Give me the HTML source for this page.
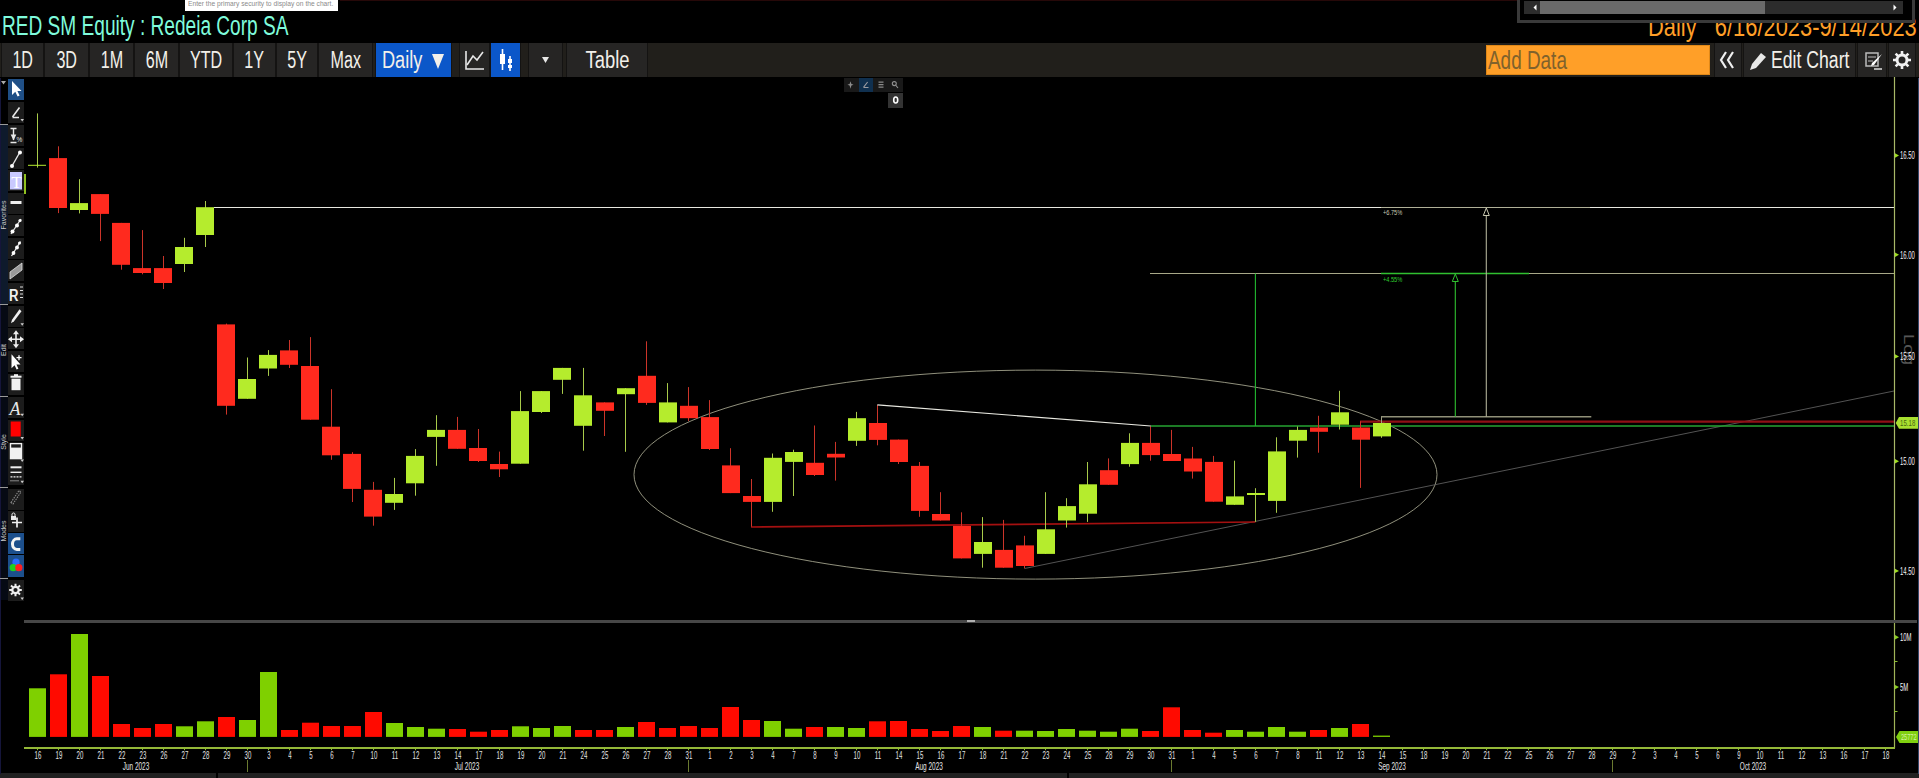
<!DOCTYPE html>
<html><head><meta charset="utf-8">
<style>
*{margin:0;padding:0;box-sizing:border-box}
html,body{width:1919px;height:778px;background:#000;overflow:hidden;font-family:"Liberation Sans",sans-serif}
#root{position:relative;width:1919px;height:778px;background:#000;overflow:hidden}
.abs{position:absolute}
.cond{display:inline-block;transform-origin:0 50%;white-space:nowrap}
#title{left:2px;top:9px;height:34px;line-height:34px;font-size:27px;color:#7ffbdc;transform:scaleX(.707);transform-origin:0 50%;white-space:nowrap}
#tip{left:185px;top:0;width:153px;height:11px;background:#fff;color:#8a8a8a;font-size:7px;line-height:7px;overflow:hidden;white-space:nowrap}
#tip span{display:inline-block;transform:scaleX(.955);transform-origin:0 0;margin-left:3px;margin-top:-1px}
#tbar{left:0;top:43px;width:1919px;height:34px;background:#211f1b}
.btn{position:absolute;top:43px;height:34px;background:#262524;border-left:1px solid #141312;border-right:1px solid #141312;color:#f2f0ea;font-size:23px;line-height:34px;text-align:center;overflow:hidden;white-space:nowrap}
.btn span{display:inline-block;transform:scaleX(.70);transform-origin:50% 50%}
.blue{background:#0b57c9}
#dater{right:2px;top:9.5px;height:34px;line-height:34px;font-size:27px;color:#ff9f28;transform:scaleX(.81);transform-origin:100% 50%;white-space:pre}
#sbox{left:1517px;top:0;width:398px;height:23px;background:#000;border:3px solid #3a3a3a;border-top:none}
#strack{left:1524px;top:1px;width:379px;height:13px;background:#2c2c2c}
#sthumb{left:1540px;top:1px;width:225px;height:13px;background:#6a6a6a}
#adddata{left:1486px;top:45px;width:224px;height:30px;background:#ff9f28;border:1px solid #e08818;overflow:hidden}
#adddata span{position:absolute;left:1px;top:-1px;font-size:25px;line-height:30px;color:#80622c;transform:scaleX(.757);transform-origin:0 50%;white-space:nowrap}
.dl{position:absolute;top:749.8px;width:20px;text-align:center;font-size:10.5px;line-height:11px;color:#e4e4e4;transform:scaleX(.58)}
.ml{position:absolute;top:760.5px;width:50px;text-align:center;font-size:10.8px;line-height:11px;color:#e4e4e4;transform:scaleX(.60);white-space:nowrap}
.yl{position:absolute;left:1899.8px;width:30px;font-size:10.5px;line-height:10px;color:#f4f4f4;transform:scaleX(.565);transform-origin:0 50%;white-space:nowrap}
.ic{position:absolute;left:8px;width:16px;height:21px;background:#1c1c1c}
.sep{position:absolute;left:0;width:8px;height:1px;background:#9a9a9a}
.vl{position:absolute;left:-14px;width:36px;height:8px;font-size:7px;line-height:8px;color:#c8c8c8;text-align:center;transform:rotate(-90deg);white-space:nowrap}
</style></head><body><div id="root">
<svg class="abs" style="left:0;top:0" width="1919" height="778" viewBox="0 0 1919 778">
<line x1="214" y1="207.5" x2="1894" y2="207.5" stroke="#e8e8e0" stroke-width="1.2"/>
<line x1="1150" y1="273.5" x2="1894" y2="273.5" stroke="#a8a888" stroke-width="1.1"/>
<line x1="1381" y1="273.5" x2="1529" y2="273.5" stroke="#30c030" stroke-width="1.6"/>
<line x1="1381" y1="207.5" x2="1590" y2="207.5" stroke="#b0b098" stroke-width="1.2"/>
<ellipse cx="1035.5" cy="474.6" rx="401.5" ry="104.5" fill="none" stroke="#aaaa92" stroke-width="0.85"/>
<line x1="1024.6" y1="568.5" x2="1894" y2="391" stroke="#626262" stroke-width="0.85"/>
<line x1="751.5" y1="500" x2="751.5" y2="527" stroke="#d02a20" stroke-width="1"/>
<line x1="751" y1="527" x2="1255.5" y2="522" stroke="#a41010" stroke-width="1.6"/>
<line x1="1150.9" y1="426" x2="1894" y2="426" stroke="#26a432" stroke-width="1.7"/>
<line x1="1360.5" y1="421.4" x2="1360.5" y2="428" stroke="#b05040" stroke-width="1"/>
<line x1="1360" y1="421.7" x2="1894" y2="421.7" stroke="#901016" stroke-width="2.2"/>
<line x1="37.5" y1="113.4" x2="37.5" y2="167.6" stroke="#a8ca4a" stroke-width="1"/>
<rect x="28" y="164.8" width="18" height="1.0" fill="#b5ec2d"/>
<line x1="58.5" y1="146.3" x2="58.5" y2="213.1" stroke="#cc3429" stroke-width="1"/>
<rect x="49" y="158.1" width="18" height="49.9" fill="#ff2a1e"/>
<line x1="79.5" y1="179.2" x2="79.5" y2="213.4" stroke="#a8ca4a" stroke-width="1"/>
<rect x="70" y="203.1" width="18" height="6.9" fill="#b5ec2d"/>
<line x1="100.5" y1="194.1" x2="100.5" y2="241.1" stroke="#cc3429" stroke-width="1"/>
<rect x="91" y="194.1" width="18" height="19.8" fill="#ff2a1e"/>
<line x1="121.5" y1="222.9" x2="121.5" y2="269.7" stroke="#cc3429" stroke-width="1"/>
<rect x="112" y="222.9" width="18" height="41.9" fill="#ff2a1e"/>
<line x1="142.5" y1="230.1" x2="142.5" y2="274.3" stroke="#cc3429" stroke-width="1"/>
<rect x="133" y="268.1" width="18" height="4.9" fill="#ff2a1e"/>
<line x1="163.5" y1="256.0" x2="163.5" y2="289.0" stroke="#cc3429" stroke-width="1"/>
<rect x="154" y="268.1" width="18" height="14.9" fill="#ff2a1e"/>
<line x1="184.5" y1="237.8" x2="184.5" y2="272.0" stroke="#a8ca4a" stroke-width="1"/>
<rect x="175" y="247.0" width="18" height="17.0" fill="#b5ec2d"/>
<line x1="205.5" y1="201.0" x2="205.5" y2="247.0" stroke="#a8ca4a" stroke-width="1"/>
<rect x="196" y="207.2" width="18" height="27.8" fill="#b5ec2d"/>
<line x1="226.5" y1="323.6" x2="226.5" y2="414.6" stroke="#cc3429" stroke-width="1"/>
<rect x="217" y="324.4" width="18" height="81.4" fill="#ff2a1e"/>
<line x1="247.5" y1="357.5" x2="247.5" y2="398.8" stroke="#a8ca4a" stroke-width="1"/>
<rect x="238" y="379.0" width="18" height="19.8" fill="#b5ec2d"/>
<line x1="268.5" y1="350.1" x2="268.5" y2="375.9" stroke="#a8ca4a" stroke-width="1"/>
<rect x="259" y="354.9" width="18" height="13.6" fill="#b5ec2d"/>
<line x1="289.5" y1="340.0" x2="289.5" y2="368.0" stroke="#cc3429" stroke-width="1"/>
<rect x="280" y="350.4" width="18" height="14.4" fill="#ff2a1e"/>
<line x1="310.5" y1="337.1" x2="310.5" y2="419.7" stroke="#cc3429" stroke-width="1"/>
<rect x="301" y="366.0" width="18" height="53.7" fill="#ff2a1e"/>
<line x1="331.5" y1="389.2" x2="331.5" y2="459.8" stroke="#cc3429" stroke-width="1"/>
<rect x="322" y="426.7" width="18" height="28.6" fill="#ff2a1e"/>
<line x1="352.5" y1="452.2" x2="352.5" y2="502.0" stroke="#cc3429" stroke-width="1"/>
<rect x="343" y="453.9" width="18" height="35.0" fill="#ff2a1e"/>
<line x1="373.5" y1="481.9" x2="373.5" y2="525.7" stroke="#cc3429" stroke-width="1"/>
<rect x="364" y="489.8" width="18" height="26.8" fill="#ff2a1e"/>
<line x1="394.5" y1="477.9" x2="394.5" y2="509.9" stroke="#a8ca4a" stroke-width="1"/>
<rect x="385" y="494.0" width="18" height="8.8" fill="#b5ec2d"/>
<line x1="415.5" y1="449.1" x2="415.5" y2="495.7" stroke="#a8ca4a" stroke-width="1"/>
<rect x="406" y="455.9" width="18" height="27.4" fill="#b5ec2d"/>
<line x1="436.5" y1="415.2" x2="436.5" y2="465.8" stroke="#a8ca4a" stroke-width="1"/>
<rect x="427" y="429.9" width="18" height="7.0" fill="#b5ec2d"/>
<line x1="457.5" y1="416.9" x2="457.5" y2="448.8" stroke="#cc3429" stroke-width="1"/>
<rect x="448" y="429.9" width="18" height="18.9" fill="#ff2a1e"/>
<line x1="478.5" y1="429.0" x2="478.5" y2="462.0" stroke="#cc3429" stroke-width="1"/>
<rect x="469" y="448.0" width="18" height="13.0" fill="#ff2a1e"/>
<line x1="499.5" y1="451.6" x2="499.5" y2="477.0" stroke="#cc3429" stroke-width="1"/>
<rect x="490" y="464.0" width="18" height="5.3" fill="#ff2a1e"/>
<line x1="520.5" y1="391.1" x2="520.5" y2="463.7" stroke="#a8ca4a" stroke-width="1"/>
<rect x="511" y="411.1" width="18" height="52.6" fill="#b5ec2d"/>
<line x1="541.5" y1="391.1" x2="541.5" y2="413.0" stroke="#a8ca4a" stroke-width="1"/>
<rect x="532" y="391.1" width="18" height="20.9" fill="#b5ec2d"/>
<line x1="562.5" y1="367.9" x2="562.5" y2="393.9" stroke="#a8ca4a" stroke-width="1"/>
<rect x="553" y="367.9" width="18" height="11.9" fill="#b5ec2d"/>
<line x1="583.5" y1="367.9" x2="583.5" y2="450.7" stroke="#a8ca4a" stroke-width="1"/>
<rect x="574" y="395.3" width="18" height="30.5" fill="#b5ec2d"/>
<line x1="604.5" y1="402.4" x2="604.5" y2="436.0" stroke="#cc3429" stroke-width="1"/>
<rect x="596" y="402.4" width="18" height="8.4" fill="#ff2a1e"/>
<line x1="625.5" y1="388.2" x2="625.5" y2="451.8" stroke="#a8ca4a" stroke-width="1"/>
<rect x="617" y="388.2" width="18" height="6.0" fill="#b5ec2d"/>
<line x1="646.5" y1="341.3" x2="646.5" y2="404.9" stroke="#cc3429" stroke-width="1"/>
<rect x="638" y="375.8" width="18" height="27.1" fill="#ff2a1e"/>
<line x1="667.5" y1="383.1" x2="667.5" y2="422.4" stroke="#a8ca4a" stroke-width="1"/>
<rect x="659" y="402.4" width="18" height="20.0" fill="#b5ec2d"/>
<line x1="688.5" y1="387.1" x2="688.5" y2="421.0" stroke="#cc3429" stroke-width="1"/>
<rect x="680" y="405.8" width="18" height="12.4" fill="#ff2a1e"/>
<line x1="709.5" y1="400.1" x2="709.5" y2="450.0" stroke="#cc3429" stroke-width="1"/>
<rect x="701" y="417.1" width="18" height="31.9" fill="#ff2a1e"/>
<line x1="730.5" y1="448.2" x2="730.5" y2="493.1" stroke="#cc3429" stroke-width="1"/>
<rect x="722" y="465.4" width="18" height="27.7" fill="#ff2a1e"/>
<line x1="751.5" y1="479.0" x2="751.5" y2="526.5" stroke="#cc3429" stroke-width="1"/>
<rect x="743" y="496.0" width="18" height="5.9" fill="#ff2a1e"/>
<line x1="772.5" y1="453.5" x2="772.5" y2="511.8" stroke="#a8ca4a" stroke-width="1"/>
<rect x="764" y="457.8" width="18" height="44.1" fill="#b5ec2d"/>
<line x1="793.5" y1="449.7" x2="793.5" y2="496.0" stroke="#a8ca4a" stroke-width="1"/>
<rect x="785" y="452.0" width="18" height="9.9" fill="#b5ec2d"/>
<line x1="814.5" y1="425.5" x2="814.5" y2="476.0" stroke="#cc3429" stroke-width="1"/>
<rect x="806" y="462.8" width="18" height="12.2" fill="#ff2a1e"/>
<line x1="835.5" y1="441.9" x2="835.5" y2="480.6" stroke="#cc3429" stroke-width="1"/>
<rect x="827" y="453.8" width="18" height="3.7" fill="#ff2a1e"/>
<line x1="856.5" y1="411.9" x2="856.5" y2="445.9" stroke="#a8ca4a" stroke-width="1"/>
<rect x="848" y="418.2" width="18" height="22.6" fill="#b5ec2d"/>
<line x1="877.5" y1="404.9" x2="877.5" y2="445.3" stroke="#cc3429" stroke-width="1"/>
<rect x="869" y="423.0" width="18" height="16.9" fill="#ff2a1e"/>
<line x1="898.5" y1="439.6" x2="898.5" y2="464.0" stroke="#cc3429" stroke-width="1"/>
<rect x="890" y="439.6" width="18" height="22.4" fill="#ff2a1e"/>
<line x1="919.5" y1="462.0" x2="919.5" y2="516.8" stroke="#cc3429" stroke-width="1"/>
<rect x="911" y="465.9" width="18" height="45.0" fill="#ff2a1e"/>
<line x1="940.5" y1="492.2" x2="940.5" y2="520.5" stroke="#cc3429" stroke-width="1"/>
<rect x="932" y="514.0" width="18" height="6.5" fill="#ff2a1e"/>
<line x1="961.5" y1="512.3" x2="961.5" y2="558.4" stroke="#cc3429" stroke-width="1"/>
<rect x="953" y="525.9" width="18" height="32.5" fill="#ff2a1e"/>
<line x1="982.5" y1="517.1" x2="982.5" y2="567.7" stroke="#a8ca4a" stroke-width="1"/>
<rect x="974" y="542.0" width="18" height="11.9" fill="#b5ec2d"/>
<line x1="1003.5" y1="519.9" x2="1003.5" y2="567.7" stroke="#cc3429" stroke-width="1"/>
<rect x="995" y="549.9" width="18" height="17.8" fill="#ff2a1e"/>
<line x1="1024.5" y1="535.8" x2="1024.5" y2="568.3" stroke="#cc3429" stroke-width="1"/>
<rect x="1016" y="545.4" width="18" height="20.6" fill="#ff2a1e"/>
<line x1="1045.5" y1="492.2" x2="1045.5" y2="553.9" stroke="#a8ca4a" stroke-width="1"/>
<rect x="1037" y="529.3" width="18" height="24.6" fill="#b5ec2d"/>
<line x1="1066.5" y1="498.2" x2="1066.5" y2="527.6" stroke="#a8ca4a" stroke-width="1"/>
<rect x="1058" y="506.1" width="18" height="14.4" fill="#b5ec2d"/>
<line x1="1087.5" y1="462.0" x2="1087.5" y2="521.9" stroke="#a8ca4a" stroke-width="1"/>
<rect x="1079" y="484.3" width="18" height="29.4" fill="#b5ec2d"/>
<line x1="1108.5" y1="458.4" x2="1108.5" y2="484.8" stroke="#cc3429" stroke-width="1"/>
<rect x="1100" y="470.2" width="18" height="14.6" fill="#ff2a1e"/>
<line x1="1129.5" y1="433.3" x2="1129.5" y2="466.7" stroke="#a8ca4a" stroke-width="1"/>
<rect x="1121" y="442.9" width="18" height="21.2" fill="#b5ec2d"/>
<line x1="1150.5" y1="426.5" x2="1150.5" y2="460.7" stroke="#cc3429" stroke-width="1"/>
<rect x="1142" y="442.9" width="18" height="12.2" fill="#ff2a1e"/>
<line x1="1171.5" y1="429.9" x2="1171.5" y2="461.0" stroke="#cc3429" stroke-width="1"/>
<rect x="1163" y="454.0" width="18" height="7.0" fill="#ff2a1e"/>
<line x1="1192.5" y1="446.9" x2="1192.5" y2="478.6" stroke="#cc3429" stroke-width="1"/>
<rect x="1184" y="458.5" width="18" height="13.0" fill="#ff2a1e"/>
<line x1="1213.5" y1="455.9" x2="1213.5" y2="501.7" stroke="#cc3429" stroke-width="1"/>
<rect x="1205" y="461.9" width="18" height="39.8" fill="#ff2a1e"/>
<line x1="1234.5" y1="460.7" x2="1234.5" y2="504.8" stroke="#a8ca4a" stroke-width="1"/>
<rect x="1226" y="496.4" width="18" height="8.4" fill="#b5ec2d"/>
<line x1="1255.5" y1="488.2" x2="1255.5" y2="521.8" stroke="#a8ca4a" stroke-width="1"/>
<rect x="1247" y="493.0" width="18" height="2.0" fill="#b5ec2d"/>
<line x1="1276.5" y1="437.3" x2="1276.5" y2="512.8" stroke="#a8ca4a" stroke-width="1"/>
<rect x="1268" y="451.4" width="18" height="49.5" fill="#b5ec2d"/>
<line x1="1297.5" y1="426.5" x2="1297.5" y2="457.6" stroke="#a8ca4a" stroke-width="1"/>
<rect x="1289" y="429.9" width="18" height="10.8" fill="#b5ec2d"/>
<line x1="1318.5" y1="415.8" x2="1318.5" y2="452.7" stroke="#cc3429" stroke-width="1"/>
<rect x="1310" y="427.5" width="18" height="4.3" fill="#ff2a1e"/>
<line x1="1339.5" y1="390.8" x2="1339.5" y2="429.5" stroke="#a8ca4a" stroke-width="1"/>
<rect x="1331" y="412.3" width="18" height="12.4" fill="#b5ec2d"/>
<line x1="1360.5" y1="421.3" x2="1360.5" y2="487.9" stroke="#cc3429" stroke-width="1"/>
<rect x="1352" y="427.5" width="18" height="12.2" fill="#ff2a1e"/>
<line x1="1381.5" y1="416.8" x2="1381.5" y2="437.8" stroke="#a8ca4a" stroke-width="1"/>
<rect x="1373" y="423.0" width="18" height="13.4" fill="#b5ec2d"/>
<line x1="877.3" y1="404.9" x2="1150.9" y2="426" stroke="#e8e8e0" stroke-width="1.2"/>
<line x1="1255.4" y1="273.5" x2="1255.4" y2="426" stroke="#22b830" stroke-width="1.1"/>
<line x1="1381.5" y1="416.8" x2="1381.5" y2="423" stroke="#a0a080" stroke-width="1"/>
<line x1="1381" y1="416.8" x2="1591.3" y2="416.8" stroke="#909078" stroke-width="1.5"/>
<line x1="1455.3" y1="281" x2="1455.3" y2="416.8" stroke="#30c030" stroke-width="1.1"/>
<path d="M1455.3 274 L1458.3 281.5 L1452.3 281.5 Z" fill="none" stroke="#30c030" stroke-width="1"/>
<line x1="1486.3" y1="215" x2="1486.3" y2="416.8" stroke="#b0b098" stroke-width="1.1"/>
<path d="M1486.3 208 L1489.3 215.5 L1483.3 215.5 Z" fill="none" stroke="#c8c8b0" stroke-width="1"/>
<rect x="29" y="688.3" width="17" height="48.6" fill="#7fd000"/>
<rect x="50" y="674.3" width="17" height="62.6" fill="#ff0a00"/>
<rect x="71" y="634.0" width="17" height="102.9" fill="#7fd000"/>
<rect x="92" y="676.0" width="17" height="60.9" fill="#ff0a00"/>
<rect x="113" y="724.0" width="17" height="12.9" fill="#ff0a00"/>
<rect x="134" y="728.0" width="17" height="8.9" fill="#ff0a00"/>
<rect x="155" y="724.0" width="17" height="12.9" fill="#ff0a00"/>
<rect x="176" y="726.3" width="17" height="10.6" fill="#7fd000"/>
<rect x="197" y="721.3" width="17" height="15.6" fill="#7fd000"/>
<rect x="218" y="717.0" width="17" height="19.9" fill="#ff0a00"/>
<rect x="239" y="720.0" width="17" height="16.9" fill="#7fd000"/>
<rect x="260" y="672.0" width="17" height="64.9" fill="#7fd000"/>
<rect x="281" y="730.0" width="17" height="6.9" fill="#ff0a00"/>
<rect x="302" y="722.7" width="17" height="14.2" fill="#ff0a00"/>
<rect x="323" y="726.0" width="17" height="10.9" fill="#ff0a00"/>
<rect x="344" y="726.0" width="17" height="10.9" fill="#ff0a00"/>
<rect x="365" y="712.0" width="17" height="24.9" fill="#ff0a00"/>
<rect x="386" y="723.0" width="17" height="13.9" fill="#7fd000"/>
<rect x="407" y="727.0" width="17" height="9.9" fill="#7fd000"/>
<rect x="428" y="728.7" width="17" height="8.2" fill="#7fd000"/>
<rect x="449" y="729.0" width="17" height="7.9" fill="#ff0a00"/>
<rect x="470" y="731.7" width="17" height="5.2" fill="#ff0a00"/>
<rect x="491" y="730.0" width="17" height="6.9" fill="#ff0a00"/>
<rect x="512" y="726.3" width="17" height="10.6" fill="#7fd000"/>
<rect x="533" y="728.0" width="17" height="8.9" fill="#7fd000"/>
<rect x="554" y="726.0" width="17" height="10.9" fill="#7fd000"/>
<rect x="575" y="730.0" width="17" height="6.9" fill="#ff0a00"/>
<rect x="596" y="730.0" width="17" height="6.9" fill="#ff0a00"/>
<rect x="617" y="727.0" width="17" height="9.9" fill="#7fd000"/>
<rect x="638" y="722.0" width="17" height="14.9" fill="#ff0a00"/>
<rect x="659" y="728.0" width="17" height="8.9" fill="#ff0a00"/>
<rect x="680" y="726.0" width="17" height="10.9" fill="#ff0a00"/>
<rect x="701" y="728.0" width="17" height="8.9" fill="#ff0a00"/>
<rect x="722" y="707.0" width="17" height="29.9" fill="#ff0a00"/>
<rect x="743" y="720.0" width="17" height="16.9" fill="#ff0a00"/>
<rect x="764" y="721.0" width="17" height="15.9" fill="#7fd000"/>
<rect x="785" y="728.7" width="17" height="8.2" fill="#7fd000"/>
<rect x="806" y="727.0" width="17" height="9.9" fill="#ff0a00"/>
<rect x="827" y="727.0" width="17" height="9.9" fill="#7fd000"/>
<rect x="848" y="728.0" width="17" height="8.9" fill="#7fd000"/>
<rect x="869" y="721.3" width="17" height="15.6" fill="#ff0a00"/>
<rect x="890" y="721.0" width="17" height="15.9" fill="#ff0a00"/>
<rect x="911" y="729.0" width="17" height="7.9" fill="#ff0a00"/>
<rect x="932" y="731.0" width="17" height="5.9" fill="#ff0a00"/>
<rect x="953" y="726.0" width="17" height="10.9" fill="#ff0a00"/>
<rect x="974" y="727.0" width="17" height="9.9" fill="#7fd000"/>
<rect x="995" y="730.7" width="17" height="6.2" fill="#ff0a00"/>
<rect x="1016" y="730.7" width="17" height="6.2" fill="#7fd000"/>
<rect x="1037" y="731.0" width="17" height="5.9" fill="#7fd000"/>
<rect x="1058" y="729.0" width="17" height="7.9" fill="#7fd000"/>
<rect x="1079" y="730.7" width="17" height="6.2" fill="#7fd000"/>
<rect x="1100" y="731.7" width="17" height="5.2" fill="#7fd000"/>
<rect x="1121" y="728.7" width="17" height="8.2" fill="#7fd000"/>
<rect x="1142" y="731.0" width="17" height="5.9" fill="#ff0a00"/>
<rect x="1163" y="707.3" width="17" height="29.6" fill="#ff0a00"/>
<rect x="1184" y="730.0" width="17" height="6.9" fill="#ff0a00"/>
<rect x="1205" y="732.7" width="17" height="4.2" fill="#ff0a00"/>
<rect x="1226" y="730.0" width="17" height="6.9" fill="#7fd000"/>
<rect x="1247" y="731.7" width="17" height="5.2" fill="#7fd000"/>
<rect x="1268" y="727.0" width="17" height="9.9" fill="#7fd000"/>
<rect x="1289" y="731.7" width="17" height="5.2" fill="#7fd000"/>
<rect x="1310" y="730.0" width="17" height="6.9" fill="#ff0a00"/>
<rect x="1331" y="728.0" width="17" height="8.9" fill="#7fd000"/>
<rect x="1352" y="724.0" width="17" height="12.9" fill="#ff0a00"/>
<rect x="1373" y="735.6" width="17" height="1.3" fill="#7fd000"/>
<line x1="1894.5" y1="77" x2="1894.5" y2="620" stroke="#a8b868" stroke-width="1.2"/>
<line x1="1894.5" y1="623" x2="1894.5" y2="748" stroke="#a0b458" stroke-width="1.2"/>
<line x1="24" y1="748" x2="1895" y2="748" stroke="#94b838" stroke-width="2"/>
<line x1="1894.5" y1="661.5" x2="1897.5" y2="661.5" stroke="#8cc030" stroke-width="1"/>
<line x1="1894.5" y1="711.5" x2="1897.5" y2="711.5" stroke="#8cc030" stroke-width="1"/>
<line x1="37.5" y1="748" x2="37.5" y2="750.2" stroke="#8cc030" stroke-width="1"/>
<line x1="58.5" y1="748" x2="58.5" y2="750.2" stroke="#8cc030" stroke-width="1"/>
<line x1="79.5" y1="748" x2="79.5" y2="750.2" stroke="#8cc030" stroke-width="1"/>
<line x1="100.5" y1="748" x2="100.5" y2="750.2" stroke="#8cc030" stroke-width="1"/>
<line x1="121.5" y1="748" x2="121.5" y2="750.2" stroke="#8cc030" stroke-width="1"/>
<line x1="142.5" y1="748" x2="142.5" y2="750.2" stroke="#8cc030" stroke-width="1"/>
<line x1="163.5" y1="748" x2="163.5" y2="750.2" stroke="#8cc030" stroke-width="1"/>
<line x1="184.5" y1="748" x2="184.5" y2="750.2" stroke="#8cc030" stroke-width="1"/>
<line x1="205.5" y1="748" x2="205.5" y2="750.2" stroke="#8cc030" stroke-width="1"/>
<line x1="226.5" y1="748" x2="226.5" y2="750.2" stroke="#8cc030" stroke-width="1"/>
<line x1="247.5" y1="748" x2="247.5" y2="750.2" stroke="#8cc030" stroke-width="1"/>
<line x1="268.5" y1="748" x2="268.5" y2="750.2" stroke="#8cc030" stroke-width="1"/>
<line x1="289.5" y1="748" x2="289.5" y2="750.2" stroke="#8cc030" stroke-width="1"/>
<line x1="310.5" y1="748" x2="310.5" y2="750.2" stroke="#8cc030" stroke-width="1"/>
<line x1="331.5" y1="748" x2="331.5" y2="750.2" stroke="#8cc030" stroke-width="1"/>
<line x1="352.5" y1="748" x2="352.5" y2="750.2" stroke="#8cc030" stroke-width="1"/>
<line x1="373.5" y1="748" x2="373.5" y2="750.2" stroke="#8cc030" stroke-width="1"/>
<line x1="394.5" y1="748" x2="394.5" y2="750.2" stroke="#8cc030" stroke-width="1"/>
<line x1="415.5" y1="748" x2="415.5" y2="750.2" stroke="#8cc030" stroke-width="1"/>
<line x1="436.5" y1="748" x2="436.5" y2="750.2" stroke="#8cc030" stroke-width="1"/>
<line x1="457.5" y1="748" x2="457.5" y2="750.2" stroke="#8cc030" stroke-width="1"/>
<line x1="478.5" y1="748" x2="478.5" y2="750.2" stroke="#8cc030" stroke-width="1"/>
<line x1="499.5" y1="748" x2="499.5" y2="750.2" stroke="#8cc030" stroke-width="1"/>
<line x1="520.5" y1="748" x2="520.5" y2="750.2" stroke="#8cc030" stroke-width="1"/>
<line x1="541.5" y1="748" x2="541.5" y2="750.2" stroke="#8cc030" stroke-width="1"/>
<line x1="562.5" y1="748" x2="562.5" y2="750.2" stroke="#8cc030" stroke-width="1"/>
<line x1="583.5" y1="748" x2="583.5" y2="750.2" stroke="#8cc030" stroke-width="1"/>
<line x1="604.5" y1="748" x2="604.5" y2="750.2" stroke="#8cc030" stroke-width="1"/>
<line x1="625.5" y1="748" x2="625.5" y2="750.2" stroke="#8cc030" stroke-width="1"/>
<line x1="646.5" y1="748" x2="646.5" y2="750.2" stroke="#8cc030" stroke-width="1"/>
<line x1="667.5" y1="748" x2="667.5" y2="750.2" stroke="#8cc030" stroke-width="1"/>
<line x1="688.5" y1="748" x2="688.5" y2="750.2" stroke="#8cc030" stroke-width="1"/>
<line x1="709.5" y1="748" x2="709.5" y2="750.2" stroke="#8cc030" stroke-width="1"/>
<line x1="730.5" y1="748" x2="730.5" y2="750.2" stroke="#8cc030" stroke-width="1"/>
<line x1="751.5" y1="748" x2="751.5" y2="750.2" stroke="#8cc030" stroke-width="1"/>
<line x1="772.5" y1="748" x2="772.5" y2="750.2" stroke="#8cc030" stroke-width="1"/>
<line x1="793.5" y1="748" x2="793.5" y2="750.2" stroke="#8cc030" stroke-width="1"/>
<line x1="814.5" y1="748" x2="814.5" y2="750.2" stroke="#8cc030" stroke-width="1"/>
<line x1="835.5" y1="748" x2="835.5" y2="750.2" stroke="#8cc030" stroke-width="1"/>
<line x1="856.5" y1="748" x2="856.5" y2="750.2" stroke="#8cc030" stroke-width="1"/>
<line x1="877.5" y1="748" x2="877.5" y2="750.2" stroke="#8cc030" stroke-width="1"/>
<line x1="898.5" y1="748" x2="898.5" y2="750.2" stroke="#8cc030" stroke-width="1"/>
<line x1="919.5" y1="748" x2="919.5" y2="750.2" stroke="#8cc030" stroke-width="1"/>
<line x1="940.5" y1="748" x2="940.5" y2="750.2" stroke="#8cc030" stroke-width="1"/>
<line x1="961.5" y1="748" x2="961.5" y2="750.2" stroke="#8cc030" stroke-width="1"/>
<line x1="982.5" y1="748" x2="982.5" y2="750.2" stroke="#8cc030" stroke-width="1"/>
<line x1="1003.5" y1="748" x2="1003.5" y2="750.2" stroke="#8cc030" stroke-width="1"/>
<line x1="1024.5" y1="748" x2="1024.5" y2="750.2" stroke="#8cc030" stroke-width="1"/>
<line x1="1045.5" y1="748" x2="1045.5" y2="750.2" stroke="#8cc030" stroke-width="1"/>
<line x1="1066.5" y1="748" x2="1066.5" y2="750.2" stroke="#8cc030" stroke-width="1"/>
<line x1="1087.5" y1="748" x2="1087.5" y2="750.2" stroke="#8cc030" stroke-width="1"/>
<line x1="1108.5" y1="748" x2="1108.5" y2="750.2" stroke="#8cc030" stroke-width="1"/>
<line x1="1129.5" y1="748" x2="1129.5" y2="750.2" stroke="#8cc030" stroke-width="1"/>
<line x1="1150.5" y1="748" x2="1150.5" y2="750.2" stroke="#8cc030" stroke-width="1"/>
<line x1="1171.5" y1="748" x2="1171.5" y2="750.2" stroke="#8cc030" stroke-width="1"/>
<line x1="1192.5" y1="748" x2="1192.5" y2="750.2" stroke="#8cc030" stroke-width="1"/>
<line x1="1213.5" y1="748" x2="1213.5" y2="750.2" stroke="#8cc030" stroke-width="1"/>
<line x1="1234.5" y1="748" x2="1234.5" y2="750.2" stroke="#8cc030" stroke-width="1"/>
<line x1="1255.5" y1="748" x2="1255.5" y2="750.2" stroke="#8cc030" stroke-width="1"/>
<line x1="1276.5" y1="748" x2="1276.5" y2="750.2" stroke="#8cc030" stroke-width="1"/>
<line x1="1297.5" y1="748" x2="1297.5" y2="750.2" stroke="#8cc030" stroke-width="1"/>
<line x1="1318.5" y1="748" x2="1318.5" y2="750.2" stroke="#8cc030" stroke-width="1"/>
<line x1="1339.5" y1="748" x2="1339.5" y2="750.2" stroke="#8cc030" stroke-width="1"/>
<line x1="1360.5" y1="748" x2="1360.5" y2="750.2" stroke="#8cc030" stroke-width="1"/>
<line x1="1381.5" y1="748" x2="1381.5" y2="750.2" stroke="#8cc030" stroke-width="1"/>
<line x1="1402.5" y1="748" x2="1402.5" y2="750.2" stroke="#8cc030" stroke-width="1"/>
<line x1="1423.5" y1="748" x2="1423.5" y2="750.2" stroke="#8cc030" stroke-width="1"/>
<line x1="1444.5" y1="748" x2="1444.5" y2="750.2" stroke="#8cc030" stroke-width="1"/>
<line x1="1465.5" y1="748" x2="1465.5" y2="750.2" stroke="#8cc030" stroke-width="1"/>
<line x1="1486.5" y1="748" x2="1486.5" y2="750.2" stroke="#8cc030" stroke-width="1"/>
<line x1="1507.5" y1="748" x2="1507.5" y2="750.2" stroke="#8cc030" stroke-width="1"/>
<line x1="1528.5" y1="748" x2="1528.5" y2="750.2" stroke="#8cc030" stroke-width="1"/>
<line x1="1549.5" y1="748" x2="1549.5" y2="750.2" stroke="#8cc030" stroke-width="1"/>
<line x1="1570.5" y1="748" x2="1570.5" y2="750.2" stroke="#8cc030" stroke-width="1"/>
<line x1="1591.5" y1="748" x2="1591.5" y2="750.2" stroke="#8cc030" stroke-width="1"/>
<line x1="1612.5" y1="748" x2="1612.5" y2="750.2" stroke="#8cc030" stroke-width="1"/>
<line x1="1633.5" y1="748" x2="1633.5" y2="750.2" stroke="#8cc030" stroke-width="1"/>
<line x1="1654.5" y1="748" x2="1654.5" y2="750.2" stroke="#8cc030" stroke-width="1"/>
<line x1="1675.5" y1="748" x2="1675.5" y2="750.2" stroke="#8cc030" stroke-width="1"/>
<line x1="1696.5" y1="748" x2="1696.5" y2="750.2" stroke="#8cc030" stroke-width="1"/>
<line x1="1717.5" y1="748" x2="1717.5" y2="750.2" stroke="#8cc030" stroke-width="1"/>
<line x1="1738.5" y1="748" x2="1738.5" y2="750.2" stroke="#8cc030" stroke-width="1"/>
<line x1="1759.5" y1="748" x2="1759.5" y2="750.2" stroke="#8cc030" stroke-width="1"/>
<line x1="1780.5" y1="748" x2="1780.5" y2="750.2" stroke="#8cc030" stroke-width="1"/>
<line x1="1801.5" y1="748" x2="1801.5" y2="750.2" stroke="#8cc030" stroke-width="1"/>
<line x1="1822.5" y1="748" x2="1822.5" y2="750.2" stroke="#8cc030" stroke-width="1"/>
<line x1="1843.5" y1="748" x2="1843.5" y2="750.2" stroke="#8cc030" stroke-width="1"/>
<line x1="1864.5" y1="748" x2="1864.5" y2="750.2" stroke="#8cc030" stroke-width="1"/>
<line x1="1885.5" y1="748" x2="1885.5" y2="750.2" stroke="#8cc030" stroke-width="1"/>
<line x1="247.5" y1="760" x2="247.5" y2="772" stroke="#6a7a30" stroke-width="1"/>
<line x1="688.5" y1="760" x2="688.5" y2="772" stroke="#6a7a30" stroke-width="1"/>
<line x1="1171.5" y1="760" x2="1171.5" y2="772" stroke="#6a7a30" stroke-width="1"/>
<line x1="1612.5" y1="760" x2="1612.5" y2="772" stroke="#6a7a30" stroke-width="1"/>
<path d="M1895 153.3 L1899 155.5 L1895 157.7 Z" fill="#a0e020"/>
<path d="M1895 252.60000000000002 L1899 254.8 L1895 257.0 Z" fill="#a0e020"/>
<path d="M1895 354.2 L1899 356.4 L1895 358.59999999999997 Z" fill="#a0e020"/>
<path d="M1895 459.1 L1899 461.3 L1895 463.5 Z" fill="#a0e020"/>
<path d="M1895 568.6999999999999 L1899 570.9 L1895 573.1 Z" fill="#a0e020"/>
<path d="M1895 635.0999999999999 L1899 637.3 L1895 639.5 Z" fill="#8cd020"/>
<path d="M1895 684.9 L1899 687.1 L1895 689.3000000000001 Z" fill="#8cd020"/>
<path d="M1895.7 423 L1899 417 L1918 417 L1918 428.8 L1899 428.8 Z" fill="#a8e030"/>
<path d="M1896 737 L1899.5 731 L1919 731 L1919 743 L1899.5 743 Z" fill="#80d010"/>
</svg>
<!-- divider -->
<div class="abs" style="left:24px;top:620px;width:1893px;height:3px;background:#474747"></div>
<div class="abs" style="left:967px;top:620px;width:8px;height:2px;background:#b0b0b0"></div>
<div class="abs" style="left:0;top:773.4px;width:1919px;height:5px;background:#212121"></div>
<div class="abs" style="left:216px;top:773px;width:2px;height:5px;background:#000"></div>
<div class="abs" style="left:1067px;top:773px;width:2px;height:5px;background:#000"></div>
<div class="abs" style="left:0;top:78px;width:1px;height:696px;background:#15153a"></div>
<div class="abs" style="left:1917.8px;top:78px;width:1.2px;height:696px;background:#34486a"></div>
<span class="abs" style="left:1895px;top:342px;width:28px;text-align:center;font-size:15.5px;line-height:15px;color:#565656;transform:rotate(90deg) scaleX(1.2);transform-origin:50% 50%">Log</span>
<span class="dl" style="left:27.5px">16</span>
<span class="dl" style="left:48.5px">19</span>
<span class="dl" style="left:69.5px">20</span>
<span class="dl" style="left:90.5px">21</span>
<span class="dl" style="left:111.5px">22</span>
<span class="dl" style="left:132.5px">23</span>
<span class="dl" style="left:153.5px">26</span>
<span class="dl" style="left:174.5px">27</span>
<span class="dl" style="left:195.5px">28</span>
<span class="dl" style="left:216.5px">29</span>
<span class="dl" style="left:237.5px">30</span>
<span class="dl" style="left:258.5px">3</span>
<span class="dl" style="left:279.5px">4</span>
<span class="dl" style="left:300.5px">5</span>
<span class="dl" style="left:321.5px">6</span>
<span class="dl" style="left:342.5px">7</span>
<span class="dl" style="left:363.5px">10</span>
<span class="dl" style="left:384.5px">11</span>
<span class="dl" style="left:405.5px">12</span>
<span class="dl" style="left:426.5px">13</span>
<span class="dl" style="left:447.5px">14</span>
<span class="dl" style="left:468.5px">17</span>
<span class="dl" style="left:489.5px">18</span>
<span class="dl" style="left:510.5px">19</span>
<span class="dl" style="left:531.5px">20</span>
<span class="dl" style="left:552.5px">21</span>
<span class="dl" style="left:573.5px">24</span>
<span class="dl" style="left:594.5px">25</span>
<span class="dl" style="left:615.5px">26</span>
<span class="dl" style="left:636.5px">27</span>
<span class="dl" style="left:657.5px">28</span>
<span class="dl" style="left:678.5px">31</span>
<span class="dl" style="left:699.5px">1</span>
<span class="dl" style="left:720.5px">2</span>
<span class="dl" style="left:741.5px">3</span>
<span class="dl" style="left:762.5px">4</span>
<span class="dl" style="left:783.5px">7</span>
<span class="dl" style="left:804.5px">8</span>
<span class="dl" style="left:825.5px">9</span>
<span class="dl" style="left:846.5px">10</span>
<span class="dl" style="left:867.5px">11</span>
<span class="dl" style="left:888.5px">14</span>
<span class="dl" style="left:909.5px">15</span>
<span class="dl" style="left:930.5px">16</span>
<span class="dl" style="left:951.5px">17</span>
<span class="dl" style="left:972.5px">18</span>
<span class="dl" style="left:993.5px">21</span>
<span class="dl" style="left:1014.5px">22</span>
<span class="dl" style="left:1035.5px">23</span>
<span class="dl" style="left:1056.5px">24</span>
<span class="dl" style="left:1077.5px">25</span>
<span class="dl" style="left:1098.5px">28</span>
<span class="dl" style="left:1119.5px">29</span>
<span class="dl" style="left:1140.5px">30</span>
<span class="dl" style="left:1161.5px">31</span>
<span class="dl" style="left:1182.5px">1</span>
<span class="dl" style="left:1203.5px">4</span>
<span class="dl" style="left:1224.5px">5</span>
<span class="dl" style="left:1245.5px">6</span>
<span class="dl" style="left:1266.5px">7</span>
<span class="dl" style="left:1287.5px">8</span>
<span class="dl" style="left:1308.5px">11</span>
<span class="dl" style="left:1329.5px">12</span>
<span class="dl" style="left:1350.5px">13</span>
<span class="dl" style="left:1371.5px">14</span>
<span class="dl" style="left:1392.5px">15</span>
<span class="dl" style="left:1413.5px">18</span>
<span class="dl" style="left:1434.5px">19</span>
<span class="dl" style="left:1455.5px">20</span>
<span class="dl" style="left:1476.5px">21</span>
<span class="dl" style="left:1497.5px">22</span>
<span class="dl" style="left:1518.5px">25</span>
<span class="dl" style="left:1539.5px">26</span>
<span class="dl" style="left:1560.5px">27</span>
<span class="dl" style="left:1581.5px">28</span>
<span class="dl" style="left:1602.5px">29</span>
<span class="dl" style="left:1623.5px">2</span>
<span class="dl" style="left:1644.5px">3</span>
<span class="dl" style="left:1665.5px">4</span>
<span class="dl" style="left:1686.5px">5</span>
<span class="dl" style="left:1707.5px">6</span>
<span class="dl" style="left:1728.5px">9</span>
<span class="dl" style="left:1749.5px">10</span>
<span class="dl" style="left:1770.5px">11</span>
<span class="dl" style="left:1791.5px">12</span>
<span class="dl" style="left:1812.5px">13</span>
<span class="dl" style="left:1833.5px">16</span>
<span class="dl" style="left:1854.5px">17</span>
<span class="dl" style="left:1875.5px">18</span>
<span class="ml" style="left:110.7px">Jun 2023</span>
<span class="ml" style="left:442.0px">Jul 2023</span>
<span class="ml" style="left:904.0px">Aug 2023</span>
<span class="ml" style="left:1366.7px">Sep 2023</span>
<span class="ml" style="left:1728.0px">Oct 2023</span>
<span class="yl" style="top:150.2px">16.50</span>
<span class="yl" style="top:249.5px">16.00</span>
<span class="yl" style="top:351.1px">15.50</span>
<span class="yl" style="top:456.0px">15.00</span>
<span class="yl" style="top:565.6px">14.50</span>
<span class="yl" style="top:632.0px">10M</span>
<span class="yl" style="top:681.8px">5M</span>
<span class="abs" style="left:1899.5px;top:418px;font-size:9px;line-height:10px;color:#4a6410;transform:scaleX(.68);transform-origin:0 50%">15.18</span>
<span class="abs" style="left:1900.5px;top:732px;font-size:9px;line-height:10px;color:#d8f0a0;transform:scaleX(.62);transform-origin:0 50%">25772</span>
<span class="abs" style="left:1382.5px;top:208px;font-size:7.5px;line-height:9px;color:#c8c8b0;transform:scaleX(.75);transform-origin:0 50%">+6.75%</span>
<span class="abs" style="left:1382.5px;top:274.5px;font-size:7.5px;line-height:9px;color:#30d030;transform:scaleX(.75);transform-origin:0 50%">+4.55%</span>

<!-- header -->
<div class="abs" style="left:340px;top:0;width:1177px;height:1px;background:#260808"></div>
<div id="title" class="abs">RED SM Equity : Redeia Corp SA</div>
<div id="dater" class="abs">Daily   6/16/2023-9/14/2023</div>
<div id="tip" class="abs"><span>Enter the primary security to display on the chart.</span></div>
<div id="sbox" class="abs"></div><div id="strack" class="abs"></div><div id="sthumb" class="abs"></div>
<svg class="abs" style="left:1524px;top:1px" width="380" height="13"><path d="M9.5 6.5 L12.5 3.5 L12.5 9.5 Z" fill="#fff"/><path d="M372.5 6.5 L369.5 3.5 L369.5 9.5 Z" fill="#fff"/></svg>

<div id="tbar" class="abs"></div>
<div class="btn" style="left:1px;width:43px"><span>1D</span></div>
<div class="btn" style="left:44px;width:45px"><span>3D</span></div>
<div class="btn" style="left:89px;width:45px"><span>1M</span></div>
<div class="btn" style="left:134px;width:45px"><span>6M</span></div>
<div class="btn" style="left:179px;width:54px"><span>YTD</span></div>
<div class="btn" style="left:233px;width:43px"><span>1Y</span></div>
<div class="btn" style="left:276px;width:42px"><span>5Y</span></div>
<div class="btn" style="left:318px;width:55px"><span>Max</span></div>
<div class="btn blue" style="left:375px;width:77px"><span id="dly" style="position:absolute;left:6px;top:0;transform:scaleX(.79);transform-origin:0 50%">Daily</span><i style="position:absolute;left:55.5px;top:10.5px;width:0;height:0;border-left:6.4px solid transparent;border-right:6.4px solid transparent;border-top:15px solid #f2f0ea"></i></div>
<div class="btn" style="left:459px;width:31px"></div>
<div class="btn blue" style="left:490px;width:31px"></div>
<div class="btn" style="left:528px;width:35px"></div>
<div class="btn" style="left:566px;width:82px"><span style="transform:scaleX(.80)">Table</span></div>
<svg class="abs" style="left:459px;top:43px" width="110" height="34">
<path d="M7 8 V26 H25" fill="none" stroke="#e8e8e8" stroke-width="1.6"/><path d="M8 22 L14 13 L18 17 L24 9" fill="none" stroke="#e8e8e8" stroke-width="1.6"/>
<path d="M43.5 6 V27 M51 13 V28" stroke="#fff" stroke-width="1.6"/><rect x="41" y="11" width="5" height="10" fill="#fff"/><rect x="49" y="16" width="4" height="4" fill="#fff"/><rect x="49" y="22" width="4" height="3" fill="#fff"/>
<path d="M83 14 L90 14 L86.5 20 Z" fill="#e8e8e8"/>
</svg>
<div id="adddata" class="abs"><span>Add Data</span></div>
<div class="btn" style="left:1714px;width:28px"></div>
<div class="btn" style="left:1743px;width:113px"></div>
<div class="btn" style="left:1857px;width:30px"></div>
<div class="btn" style="left:1888px;width:28px"></div>
<span class="abs" style="left:1771px;top:43px;font-size:23px;line-height:34px;color:#f2f0ea;transform:scaleX(.767);transform-origin:0 50%;white-space:nowrap">Edit Chart</span>
<svg class="abs" style="left:1714px;top:43px" width="205" height="34">
<path d="M12 9 L7 17 L12 25 M19 9 L14 17 L19 25" fill="none" stroke="#f0f0f0" stroke-width="2.2"/>
<path d="M47 10 L52 14 L42 25 L36 27 L38 21 Z" fill="#e8e8e8"/>
<rect x="152" y="10" width="12" height="13" fill="none" stroke="#bbb" stroke-width="1.5"/><path d="M154 14 H162 M154 18 H159" stroke="#bbb" stroke-width="1.2"/><path d="M168 11 L160 22 L157 23 L158 20 Z" fill="#fff"/><path d="M160 26 H168" stroke="#ddd" stroke-width="1.5"/>
<g transform="translate(188,17)"><circle r="5" fill="none" stroke="#f0f0f0" stroke-width="3"/><g stroke="#f0f0f0" stroke-width="2.6"><path d="M0 -9 V-5 M0 9 V5 M-9 0 H-5 M9 0 H5 M-6.4 -6.4 L-3.8 -3.8 M6.4 6.4 L3.8 3.8 M-6.4 6.4 L-3.8 3.8 M6.4 -6.4 L3.8 -3.8"/></g></g>
</svg>

<!-- mini toolbar -->
<div class="abs" style="left:843.5px;top:78px;width:59.5px;height:14px;background:#191919"></div>
<div class="abs" style="left:858.5px;top:78px;width:14.5px;height:14px;background:#10304f"></div>
<div class="abs" style="left:888px;top:93.2px;width:15px;height:14.4px;background:#333"></div>
<svg class="abs" style="left:843px;top:78px" width="62" height="32">
<path d="M7.5 3.2 L8.4 6 L10.6 6.8 L8.4 7.6 L7.5 10.8 L6.6 7.6 L4.4 6.8 L6.6 6 Z" fill="#8c8c8c"/>
<path d="M20.5 9.3 L24.6 4 M20.5 9.5 H25.5" stroke="#9a9aa0" stroke-width="1.1" fill="none"/>
<path d="M35.5 4.2 H40.5 M35.5 6.6 H40.5 M35.5 9.2 H40.5" stroke="#8a8a8a" stroke-width="1.3"/>
<circle cx="51.3" cy="5.6" r="2" fill="none" stroke="#909090" stroke-width="1.1"/><path d="M52.8 7.4 L55 10" stroke="#909090" stroke-width="1.1"/>
<ellipse cx="52.7" cy="22" rx="2" ry="3" fill="none" stroke="#fff" stroke-width="1.6"/>
</svg>

<!-- left toolbar -->
<div class="abs" style="left:1px;top:124px;width:7px;height:180px;background:#0e1a2c"></div>
<div class="abs" style="left:1px;top:304px;width:7px;height:296px;background:#060a14"></div>
<div class="ic" style="top:78.5px;background:#1f4f86"></div>
<div class="ic" style="top:101.5px"></div>
<div class="ic" style="top:125px"></div>
<div class="ic" style="top:147.5px"></div>
<div class="ic" style="top:170px"></div>
<div class="ic" style="top:192.5px"></div>
<div class="ic" style="top:215px"></div>
<div class="ic" style="top:237.5px"></div>
<div class="ic" style="top:260px"></div>
<div class="ic" style="top:282.5px"></div>
<div class="ic" style="top:305.8px"></div>
<div class="ic" style="top:328.2px"></div>
<div class="ic" style="top:351px"></div>
<div class="ic" style="top:373.5px"></div>
<div class="ic" style="top:397.3px"></div>
<div class="ic" style="top:420px"></div>
<div class="ic" style="top:442.6px"></div>
<div class="ic" style="top:464.3px"></div>
<div class="ic" style="top:488.5px"></div>
<div class="ic" style="top:511px"></div>
<div class="ic" style="top:533.2px;background:#1c4f8c"></div>
<div class="ic" style="top:555.2px;height:21.5px;background:#1c4f8c"></div>
<div class="ic" style="top:580px"></div>
<div class="sep" style="top:123.5px"></div>
<div class="sep" style="top:303.5px"></div>
<div class="sep" style="top:395.5px"></div>
<div class="sep" style="top:486.8px"></div>
<div class="sep" style="top:578px"></div>
<span class="vl" style="top:211px">Favorites</span>
<span class="vl" style="top:346px">Edit</span>
<span class="vl" style="top:438px">Style</span>
<span class="vl" style="top:527px">Modes</span>
<div class="abs" style="left:24px;top:174px;width:1.5px;height:20px;background:#90c020"></div>
<svg class="abs" style="left:0;top:76px" width="26" height="530">
<path d="M1 5 H6 L3.5 8.5 Z" fill="#aaa"/>
<!-- cursor -->
<path d="M12 5 L12 19 L15.3 15.8 L17.6 20.6 L19.6 19.6 L17.4 15 L21.5 15 Z" fill="#fff"/>
<!-- pencil angle -->
<path d="M12.5 41 L19.5 31.5 M12.5 41.5 H19" stroke="#e8e8e8" stroke-width="1.6" fill="none"/><path d="M20.5 43 H24 L22.2 45.5 Z" fill="#ccc"/>
<!-- T% -->
<path d="M10.5 52.5 H16.5 M13.5 52.5 V64 M10.5 66.5 H16.5" stroke="#e8e8e8" stroke-width="1.4"/><path d="M10.7 58.5 H16.3 L13.5 64.5 Z" fill="#e8e8e8"/><text x="16.5" y="66" font-size="6.5" fill="#e8e8e8" font-family="Liberation Sans">%</text>
<!-- line dots -->
<path d="M12 90 L20 76" stroke="#e8e8e8" stroke-width="1.4"/><circle cx="12" cy="90" r="2" fill="#fff"/><circle cx="20" cy="76.5" r="2" fill="#fff"/>
<!-- T lavender -->
<rect x="10" y="96" width="12" height="17.5" fill="#c9c9ff"/><text x="11.2" y="111.5" font-size="17" fill="#fff" font-family="Liberation Serif">T</text>
<!-- dash -->
<rect x="10.5" y="125" width="11" height="3" fill="#f0f0f0"/>
<!-- line w/ 3 dots -->
<path d="M11 158 L21 143" stroke="#e8e8e8" stroke-width="1.3"/><circle cx="12.5" cy="155.5" r="2" fill="#fff"/><circle cx="17" cy="149.5" r="2" fill="#fff"/><circle cx="20" cy="144.5" r="1.6" fill="#fff"/>
<path d="M11.5 180 L20.5 165.5" stroke="#e8e8e8" stroke-width="1.3"/><circle cx="13.5" cy="177" r="1.9" fill="#fff"/><circle cx="17" cy="171.5" r="1.9" fill="#fff"/><circle cx="19.5" cy="167" r="1.5" fill="#fff"/>
<!-- channel -->
<path d="M10 196 L22 187 V194 L10 203 Z" fill="#9a9a9a" stroke="#e0e0e0" stroke-width="0.8"/>
<!-- R -->
<text x="9" y="224.5" font-size="16" font-weight="bold" fill="#f0f0f0" font-family="Liberation Sans" textLength="9.5" lengthAdjust="spacingAndGlyphs">R</text><path d="M20 211 H23 M20 214.5 H23 M20 218 H23 M20 221.5 H23" stroke="#ddd" stroke-width="1.2"/>
<g transform="translate(0,-1.8)">
<!-- pencil -->
<path d="M19.5 235 L21.5 237 L14 247 L11 249 L12 245.5 Z" fill="#f0f0f0"/><path d="M20.5 249 H24 L22.2 251.5 Z" fill="#ccc"/>
<!-- move -->
<path d="M16 258 V272 M9.5 265 H22.5" stroke="#f0f0f0" stroke-width="1.6"/><path d="M16 256 L19 260 H13 Z M16 274 L19 270 H13 Z M8 265 L12 262 V268 Z M24 265 L20 262 V268 Z" fill="#f0f0f0"/>
<!-- cursor+ -->
<path d="M11.5 280 L11.5 294 L14.6 291 L16.6 295.4 L18.4 294.5 L16.5 290.3 L20.5 290.3 Z" fill="#fff"/><path d="M19 281 V286 M16.5 283.5 H21.5" stroke="#fff" stroke-width="1.3"/>
<!-- trash -->
<rect x="11.5" y="304.5" width="9" height="11.5" fill="#f0f0f0"/><rect x="10.5" y="301.5" width="11" height="2" fill="#f0f0f0"/><rect x="14" y="300" width="4" height="2" fill="#f0f0f0"/>
</g>
<g transform="translate(0,-1.2)">
<!-- A -->
<text x="9.5" y="340" font-size="18" font-style="italic" fill="#e8e8e8" font-family="Liberation Serif">A</text><path d="M20.5 339 H24 L22.2 341.5 Z" fill="#ccc"/>
</g>
<g transform="translate(0,-1.0)">
<!-- red -->
<rect x="10.7" y="346.5" width="10" height="15" fill="#ff0000"/><path d="M20.5 362 H24 L22.2 364.5 Z" fill="#ccc"/>
</g>
<g transform="translate(0,-1.4)">
<!-- white rect -->
<rect x="10.5" y="369" width="11" height="15" fill="none" stroke="#f0f0f0" stroke-width="1.4"/><rect x="10.5" y="373" width="11" height="11" fill="#f0f0f0"/><path d="M20.5 385 H24 L22.2 387.5 Z" fill="#ccc"/>
</g>
<g transform="translate(0,-2.2)">
<!-- lines -->
<path d="M10.5 393.5 H21.5" stroke="#f0f0f0" stroke-width="2"/><path d="M10.5 398.5 H21.5" stroke="#f0f0f0" stroke-width="1.4"/><path d="M10.5 403 H21.5" stroke="#f0f0f0" stroke-width="1.2" stroke-dasharray="2 1"/><path d="M10.5 407 H19" stroke="#f0f0f0" stroke-width="1" stroke-dasharray="1 1"/><path d="M20.5 407 H24 L22.2 409.5 Z" fill="#ccc"/>
</g>
<g transform="translate(0,-1.5)">
<!-- dotted link -->
<path d="M11 428 L19 416 L21 417.5 L13 429.5 Z" fill="none" stroke="#888" stroke-width="1.1" stroke-dasharray="1.5 1"/>
</g>
<g transform="translate(0,-1.0)">
<!-- lock plus -->
<rect x="11" y="441" width="5" height="4" fill="#e8e8e8"/><path d="M12 441 V439 A1.6 1.6 0 0 1 15 439 V441" fill="none" stroke="#e8e8e8" stroke-width="1"/><path d="M17 442.5 V452.5 M12 447.5 H22" stroke="#f0f0f0" stroke-width="1.7"/>
</g>
<!-- magnet -->
<path d="M20.3 462.8 H16.8 A4.3 5.3 0 0 0 16.8 473.4 H20.3" fill="none" stroke="#f4f4f4" stroke-width="3"/>
<g transform="translate(0,-0.8)">
<!-- rgb -->
<circle cx="16" cy="487" r="3.6" fill="#2a6cff"/><circle cx="13.2" cy="492.5" r="3.6" fill="#20d020"/><circle cx="18.8" cy="492.5" r="3.6" fill="#ff2020"/>
</g>
<g transform="translate(0,-1.5)">
<!-- gear -->
<g transform="translate(15.5,515.5)"><circle r="3.2" fill="none" stroke="#f0f0f0" stroke-width="2.2"/><g stroke="#f0f0f0" stroke-width="2"><path d="M0 -6.3 V-3.5 M0 6.3 V3.5 M-6.3 0 H-3.5 M6.3 0 H3.5 M-4.5 -4.5 L-2.6 -2.6 M4.5 4.5 L2.6 2.6 M-4.5 4.5 L-2.6 2.6 M4.5 -4.5 L2.6 -2.6"/></g></g><path d="M20.5 523 H24 L22.2 525.5 Z" fill="#ccc"/>
</g>
</svg>
</div></body></html>
